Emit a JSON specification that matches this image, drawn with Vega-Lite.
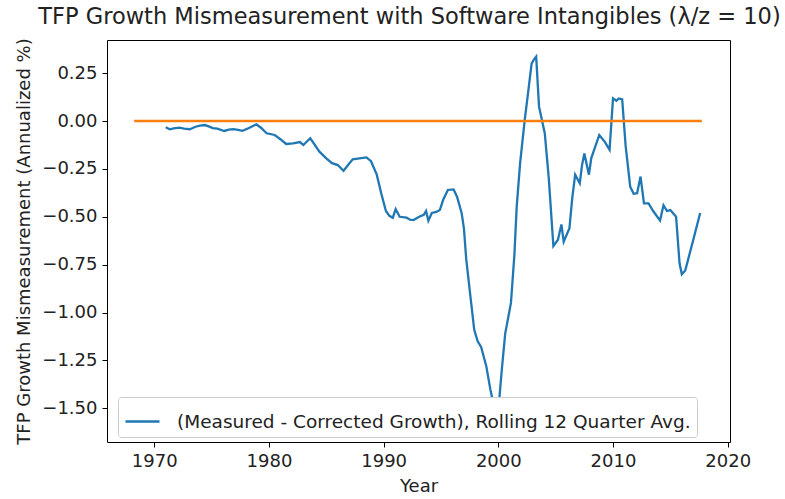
{
  "$schema": "https://vega.github.io/schema/vega-lite/v6.json",
  "autosize": {"type": "none"},
  "width": 623,
  "height": 402,
  "padding": {"left": 107, "top": 40, "right": 55, "bottom": 57},
  "background": "white",
  "config": {
    "font": "DejaVu Sans",
    "view": {"stroke": "#000000", "strokeWidth": 1},
    "axis": {
      "grid": false,
      "domain": false,
      "tickColor": "#000000",
      "tickSize": 5,
      "labelColor": "#222222",
      "titleColor": "#222222",
      "labelFontSize": 18,
      "titleFontSize": 18,
      "titleFontWeight": "normal",
      "labelPadding": 5
    },
    "title": {"fontSize": 22.5, "fontWeight": "normal", "color": "#222222"}
  },
  "title": {"text": "TFP Growth Mismeasurement with Software Intangibles (λ/z = 10)", "anchor": "middle", "frame": "group", "offset": 9, "dx": -9},
  "datasets": {
    "series": [
      {"year": 1971.0, "value": -0.033}, {"year": 1971.35, "value": -0.043}, {"year": 1971.7, "value": -0.038},
      {"year": 1972.2, "value": -0.035}, {"year": 1972.6, "value": -0.040}, {"year": 1973.1, "value": -0.043},
      {"year": 1973.6, "value": -0.030}, {"year": 1974.0, "value": -0.024}, {"year": 1974.4, "value": -0.021},
      {"year": 1974.75, "value": -0.028}, {"year": 1975.1, "value": -0.037}, {"year": 1975.5, "value": -0.040},
      {"year": 1976.1, "value": -0.052}, {"year": 1976.5, "value": -0.045}, {"year": 1976.9, "value": -0.042},
      {"year": 1977.3, "value": -0.046}, {"year": 1977.7, "value": -0.051}, {"year": 1978.3, "value": -0.035},
      {"year": 1978.9, "value": -0.017}, {"year": 1979.3, "value": -0.035}, {"year": 1979.8, "value": -0.064},
      {"year": 1980.5, "value": -0.073}, {"year": 1981.0, "value": -0.095}, {"year": 1981.5, "value": -0.120},
      {"year": 1982.1, "value": -0.117}, {"year": 1982.7, "value": -0.110}, {"year": 1983.0, "value": -0.125},
      {"year": 1983.6, "value": -0.090}, {"year": 1984.0, "value": -0.125}, {"year": 1984.4, "value": -0.160},
      {"year": 1985.0, "value": -0.195}, {"year": 1985.5, "value": -0.220}, {"year": 1986.0, "value": -0.230},
      {"year": 1986.5, "value": -0.260}, {"year": 1986.9, "value": -0.230}, {"year": 1987.3, "value": -0.200},
      {"year": 1987.9, "value": -0.195}, {"year": 1988.5, "value": -0.190}, {"year": 1988.9, "value": -0.210},
      {"year": 1989.4, "value": -0.280}, {"year": 1989.8, "value": -0.380}, {"year": 1990.2, "value": -0.470},
      {"year": 1990.5, "value": -0.495}, {"year": 1990.8, "value": -0.505}, {"year": 1991.05, "value": -0.460},
      {"year": 1991.4, "value": -0.500}, {"year": 1992.0, "value": -0.505}, {"year": 1992.3, "value": -0.515},
      {"year": 1992.6, "value": -0.517}, {"year": 1993.1, "value": -0.500}, {"year": 1993.5, "value": -0.490},
      {"year": 1993.7, "value": -0.470}, {"year": 1993.9, "value": -0.520}, {"year": 1994.2, "value": -0.480},
      {"year": 1994.6, "value": -0.475}, {"year": 1994.9, "value": -0.465}, {"year": 1995.2, "value": -0.410},
      {"year": 1995.6, "value": -0.360}, {"year": 1996.1, "value": -0.357}, {"year": 1996.4, "value": -0.395},
      {"year": 1996.8, "value": -0.480}, {"year": 1997.0, "value": -0.560}, {"year": 1997.2, "value": -0.720},
      {"year": 1997.5, "value": -0.880}, {"year": 1997.9, "value": -1.090}, {"year": 1998.2, "value": -1.150},
      {"year": 1998.5, "value": -1.180}, {"year": 1998.95, "value": -1.280}, {"year": 1999.3, "value": -1.400},
      {"year": 1999.5, "value": -1.457}, {"year": 1999.7, "value": -1.560}, {"year": 1999.85, "value": -1.540},
      {"year": 2000.06, "value": -1.470}, {"year": 2000.3, "value": -1.300}, {"year": 2000.6, "value": -1.110},
      {"year": 2001.1, "value": -0.950}, {"year": 2001.4, "value": -0.700}, {"year": 2001.6, "value": -0.450},
      {"year": 2001.9, "value": -0.220}, {"year": 2002.3, "value": 0.005}, {"year": 2002.6, "value": 0.150},
      {"year": 2002.9, "value": 0.300}, {"year": 2003.1, "value": 0.320}, {"year": 2003.3, "value": 0.336},
      {"year": 2003.55, "value": 0.075}, {"year": 2004.05, "value": -0.064}, {"year": 2004.4, "value": -0.300},
      {"year": 2004.8, "value": -0.653}, {"year": 2005.2, "value": -0.620}, {"year": 2005.5, "value": -0.540},
      {"year": 2005.7, "value": -0.630}, {"year": 2006.2, "value": -0.560}, {"year": 2006.45, "value": -0.400},
      {"year": 2006.7, "value": -0.280}, {"year": 2007.1, "value": -0.325}, {"year": 2007.3, "value": -0.230},
      {"year": 2007.5, "value": -0.170}, {"year": 2007.9, "value": -0.280}, {"year": 2008.1, "value": -0.195},
      {"year": 2008.8, "value": -0.073}, {"year": 2009.3, "value": -0.110}, {"year": 2009.7, "value": -0.150},
      {"year": 2010.0, "value": 0.118}, {"year": 2010.3, "value": 0.106}, {"year": 2010.5, "value": 0.118},
      {"year": 2010.8, "value": 0.113}, {"year": 2011.1, "value": -0.130}, {"year": 2011.5, "value": -0.343},
      {"year": 2011.8, "value": -0.380}, {"year": 2012.1, "value": -0.377}, {"year": 2012.4, "value": -0.290},
      {"year": 2012.7, "value": -0.430}, {"year": 2013.1, "value": -0.430}, {"year": 2013.5, "value": -0.470},
      {"year": 2014.1, "value": -0.520}, {"year": 2014.4, "value": -0.440}, {"year": 2014.7, "value": -0.470},
      {"year": 2015.0, "value": -0.465}, {"year": 2015.5, "value": -0.500}, {"year": 2015.8, "value": -0.743},
      {"year": 2016.0, "value": -0.800}, {"year": 2016.3, "value": -0.780}, {"year": 2017.0, "value": -0.620},
      {"year": 2017.6, "value": -0.480}
    ],
    "zero": [
      {"year": 1968.25, "value": 0},
      {"year": 2017.75, "value": 0}
    ]
  },
  "layer": [
    {
      "data": {"name": "series"},
      "mark": {"type": "line", "strokeWidth": 2.3, "clip": true},
      "encoding": {
        "x": {
          "field": "year", "type": "quantitative",
          "scale": {"domain": [1965.88, 2020.2], "nice": false, "zero": false},
          "axis": {"title": "Year", "values": [1970, 1980, 1990, 2000, 2010, 2020], "format": "d", "titlePadding": 7}
        },
        "y": {
          "field": "value", "type": "quantitative",
          "scale": {"domain": [-1.676, 0.423], "nice": false, "zero": false},
          "axis": {"title": "TFP Growth Mismeasurement (Annualized %)", "values": [0.25, 0, -0.25, -0.5, -0.75, -1, -1.25, -1.5], "format": ".2f", "titlePadding": 8}
        },
        "color": {
          "datum": "(Measured - Corrected Growth), Rolling 12 Quarter Avg.",
          "type": "nominal",
          "scale": {"range": ["#1f77b4"]},
          "legend": {
            "title": null,
            "orient": "none",
            "legendX": 11,
            "legendY": 357,
            "symbolType": "stroke",
            "symbolSize": 1156,
            "symbolStrokeWidth": 2.3,
            "labelFontSize": 18.5,
            "labelOffset": 16,
            "labelColor": "#222222",
            "labelLimit": 700,
            "strokeColor": "#cccccc",
            "fillColor": "#ffffff",
            "cornerRadius": 3,
            "padding": 6
          }
        }
      }
    },
    {
      "data": {"name": "zero"},
      "mark": {"type": "line", "strokeWidth": 2.3, "color": "#ff7f0e"},
      "encoding": {
        "x": {"field": "year", "type": "quantitative"},
        "y": {"field": "value", "type": "quantitative"}
      }
    }
  ]
}
